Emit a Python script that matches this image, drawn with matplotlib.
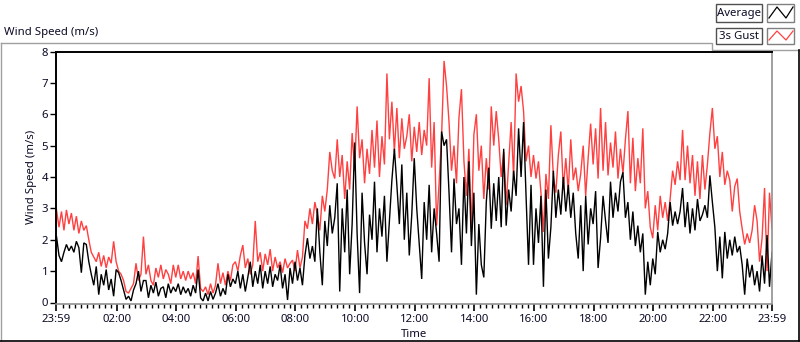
import numpy as np
import matplotlib
matplotlib.use("Agg")
import matplotlib.pyplot as plt
from matplotlib.patches import Rectangle
from matplotlib.lines import Line2D

# ---- data: 5-minute samples from 23:59 to 23:59 ----
sample_minutes = 5

gust = [
    2.95, 2.4, 2.9, 2.3, 2.95, 2.5, 2.85, 2.3, 2.75, 2.2, 2.6, 2.3,
    2.45, 2.0, 1.6, 1.45, 1.3, 1.6, 1.15, 1.5, 1.1, 1.45, 1.25, 1.95,
    1.3, 1.0, 0.9, 0.7, 0.35, 0.3, 0.45, 0.6, 1.25, 0.7, 0.9, 2.1,
    0.9, 1.2, 0.7, 0.55, 1.1, 0.8, 1.2, 0.75, 1.05, 0.9, 0.6, 1.2,
    0.8, 1.2, 0.75, 1.0, 0.7, 1.0, 0.75, 0.95, 0.6, 1.48, 0.45, 0.35,
    0.5, 0.25, 0.6, 0.3, 0.55, 1.25, 0.6, 0.95, 0.55, 1.0, 0.7, 1.2,
    1.3, 1.0, 1.5, 1.83, 1.1, 1.4, 0.9, 1.2, 2.6, 1.3, 1.6, 1.0,
    1.55, 1.2, 1.7, 1.0, 1.45, 1.1, 1.3, 0.95, 1.4, 1.1, 1.25, 1.35,
    1.0, 1.67, 1.1, 1.45, 2.6, 2.35, 3.0, 2.5, 3.2, 2.8, 2.3, 3.4,
    2.9, 3.6, 4.8, 4.2, 3.95, 5.2, 4.0, 4.7, 3.3, 4.5, 3.6, 5.4,
    4.2, 6.25, 4.6, 5.2, 3.8, 4.9, 4.1, 5.5, 4.3, 5.8, 4.0, 5.3,
    4.4, 7.3, 5.2, 6.4, 4.8, 6.2, 4.6, 5.87, 4.9, 5.3, 6.0, 4.5,
    5.6, 4.8, 5.75, 4.7, 5.5, 5.0, 7.15, 4.3, 5.75, 2.45, 3.8, 5.3,
    7.7, 6.9, 5.75, 4.2, 5.0, 3.8, 5.9, 6.8, 4.5, 3.4, 4.9, 2.25,
    5.35, 6.0, 4.2, 5.0, 3.3, 4.6, 3.6, 6.25, 5.0, 6.1, 5.2, 4.0,
    4.8, 3.1, 4.4, 5.75, 4.0, 7.3, 6.4, 6.9, 6.1, 4.5, 5.0, 4.0,
    4.7, 3.95, 4.5, 3.5, 2.25, 4.1, 3.3, 5.65, 4.0, 3.5, 4.7, 5.45,
    3.6, 4.6, 3.55, 5.2, 3.9, 4.3, 3.55, 4.1, 5.0, 3.4, 4.6, 5.7,
    4.4, 5.55, 3.95, 6.2, 4.2, 5.75, 4.05, 5.1, 4.3, 5.45, 3.95, 4.9,
    4.1, 5.2, 6.1, 3.8, 5.25, 3.55, 4.6, 3.8, 5.55, 3.0, 3.55, 2.4,
    2.05, 3.1, 2.3, 3.4, 2.7, 3.2, 2.6, 3.3, 4.2, 3.75, 4.5, 3.9,
    5.5, 3.9, 5.0, 3.8, 4.7, 3.4, 4.5, 3.3, 4.7, 3.6, 4.4, 5.4,
    6.2, 4.9, 5.3, 4.0, 4.8, 3.75, 4.2, 3.9, 2.9, 3.7, 3.95, 2.9,
    2.35, 1.85, 2.2, 1.9, 2.3, 3.1, 2.6, 1.3, 2.05, 3.65, 1.0, 3.5,
    2.35,
]

average = [
    2.1, 1.5, 1.3, 1.6, 1.85, 1.65, 1.8, 1.6, 1.95, 1.75, 0.95, 1.9,
    1.85, 1.3, 0.9, 0.55, 1.15, 0.25, 0.9, 0.55, 1.05, 0.4, 0.75, 0.2,
    1.05, 0.95, 0.7, 0.4, 0.1, 0.2, 0.05, 0.4, 0.6, 1.0, 0.35, 0.7,
    0.7, 0.15, 0.55, 0.3, 0.65, 0.2, 0.45, 0.5, 0.15, 0.6, 0.3, 0.5,
    0.35, 0.6, 0.25, 0.5, 0.3, 0.45, 0.2, 0.55, 0.3, 1.05, 0.15, 0.05,
    0.3, 0.05, 0.35, 0.1, 0.3, 0.6, 0.2, 0.45, 0.25, 0.9, 0.5, 0.75,
    0.6, 1.0, 0.45, 0.9, 0.35, 0.8, 1.3, 0.5, 1.0, 0.6, 1.2, 0.45,
    1.0, 0.6, 1.15, 0.5, 0.9, 0.7, 1.2, 0.45, 0.9, 0.08, 1.1, 0.6,
    1.3, 0.7, 1.1, 0.55, 1.5, 2.05, 1.4, 1.8, 1.3, 3.0, 1.6, 0.55,
    2.6, 1.8, 3.1, 2.2, 2.7, 3.8, 0.35, 3.0, 1.6, 3.6, 0.9, 2.5,
    5.1, 2.2, 0.3, 3.5, 1.9, 0.9, 2.8, 2.0, 3.85, 1.6, 3.0, 2.1,
    3.4, 1.3, 2.6, 3.9, 4.9, 3.75, 2.5, 4.4, 2.0, 3.5, 1.5, 2.8,
    4.6, 3.0, 1.85, 0.75, 3.2, 2.0, 3.75, 1.6, 3.0, 2.2, 1.3, 5.45,
    5.0, 5.2, 3.5, 1.6, 3.95, 2.5, 3.0, 1.2, 4.0, 2.2, 4.5, 1.8,
    3.5, 0.25, 2.5, 1.2, 0.8, 3.2, 4.3, 2.35, 3.8, 2.6, 4.0, 2.4,
    4.9, 2.45, 3.6, 2.9, 4.2, 3.4, 5.55, 4.0, 5.75, 3.4, 1.2, 3.75,
    1.2, 3.0, 1.9, 3.4, 0.5, 3.6, 1.4, 2.4, 4.2, 2.7, 3.6, 2.8,
    4.0, 2.9, 3.75, 2.7, 3.5, 2.2, 1.4, 3.1, 1.0, 3.4, 1.85, 3.0,
    2.5, 3.55, 1.1, 2.05, 3.4, 2.6, 1.9, 3.85, 2.7, 3.5, 2.9, 3.85,
    4.15, 2.7, 3.2, 2.0, 2.9, 1.8, 2.45, 1.6, 2.2, 0.25, 1.3, 0.55,
    1.4, 0.9, 2.25, 1.6, 2.0, 1.7, 2.2, 3.2, 2.45, 2.9, 2.5, 2.9,
    3.65, 2.4, 3.2, 2.2, 3.0, 2.3, 3.3, 2.6, 2.8, 3.1, 2.7, 4.05,
    3.2, 2.4, 1.0, 2.1, 0.77, 2.25, 1.4, 2.0, 1.5, 2.1, 1.6, 1.8,
    1.2, 0.25, 1.4, 0.8, 1.2, 0.55, 1.0, 0.35, 1.5, 0.6, 2.15, 0.5,
    1.6,
]

series_names = ["Average", "3s Gust"]
x_tick_labels = ["23:59", "02:00", "04:00", "06:00", "08:00", "10:00", "12:00",
                 "14:00", "16:00", "18:00", "20:00", "22:00", "23:59"]
y_ticks = [0, 1, 2, 3, 4, 5, 6, 7, 8]

# ---- style ----
plt.rcParams["font.family"] = ["Noto Sans", "DejaVu Sans"]
TXT = "#0b0b26"
RED = "#ff4040"
FS = 8.2
W, H = 800, 342

fig = plt.figure(figsize=(8, 3.42), dpi=100)
fig.patch.set_facecolor("white")


def px(x0, y0, x1, y1):
    return [x0 / W, 1 - y1 / H, (x1 - x0) / W, (y1 - y0) / H]


# overlay for panel decorations (pixel coordinates)
ov = fig.add_axes([0, 0, 1, 1], zorder=0)
ov.set_xlim(0, W)
ov.set_ylim(H, 0)
ov.axis("off")
gray = "#a0a0a0"
ov.add_line(Line2D([0.5, 712, 712, 800], [42.5, 42.5, 49.5, 49.5], color=gray, lw=1))
ov.add_line(Line2D([0.5, 0.5], [42.5, 340.5], color=gray, lw=1))
ov.add_line(Line2D([0, 798.5], [340.5, 340.5], color="black", lw=1.2))
ov.add_line(Line2D([798.5, 798.5], [49.5, 340.5], color="black", lw=1.2))
ov.text(4, 32, "Wind Speed (m/s)", fontsize=FS, color=TXT, ha="left", va="center")

# legend boxes
legend_rows = [(4, 22), (28, 44)]
for (y0, y1), name, col in zip(legend_rows, series_names, ["black", RED]):
    ov.add_patch(Rectangle((716, y0), 46, y1 - y0, facecolor="white",
                           edgecolor="#505050", lw=1))
    ov.text(739, (y0 + y1) / 2 + 0.5, name, fontsize=FS, color=TXT,
            ha="center", va="center")
    ov.add_patch(Rectangle((767, y0), 27, y1 - y0, facecolor="white",
                           edgecolor="#808080", lw=1))
    ov.add_line(Line2D([769, 777, 786, 793],
                       [y1 - 4, y0 + 3, y1 - 4, y0 + 3], color=col, lw=0.9))

# main plot
ax = fig.add_axes(px(56.5, 51.5, 772, 302.5), zorder=1)
t = np.arange(len(average)) * sample_minutes / 60.0
ax.plot(t, gust, color=RED, lw=1.0, solid_joinstyle="miter")
ax.plot(t, average, color="black", lw=1.0, solid_joinstyle="miter")
ax.set_xlim(0, 24)
ax.set_ylim(0, 8)

for side in ["left", "top"]:
    ax.spines[side].set_color("black")
    ax.spines[side].set_linewidth(1.4)
for side in ["right", "bottom"]:
    ax.spines[side].set_color("#909090")
    ax.spines[side].set_linewidth(1.2)
ax.spines["bottom"].set_position(("outward", 1))

major = [0] + [h + 1 / 60 for h in range(2, 24, 2)] + [24]
ax.set_xticks(major)
ax.set_xticklabels(x_tick_labels)
minor = [m for m in np.arange(1 / 60, 24, 0.2)
         if min(abs(m - M) for M in major) > 0.05]
ax.set_xticks(minor, minor=True)
ax.tick_params(axis="x", which="major", direction="out", length=5, width=1.2,
               color="black", labelsize=FS, labelcolor=TXT, pad=2)
ax.tick_params(axis="x", which="minor", direction="out", length=3, width=1,
               color="black")
ax.set_yticks(y_ticks)
ax.tick_params(axis="y", direction="out", length=4, width=1, color="black",
               labelsize=FS, labelcolor=TXT, pad=2)
ax.set_xlabel("Time", fontsize=FS, color=TXT, labelpad=3)
ax.set_ylabel("Wind Speed (m/s)", fontsize=FS, color=TXT, labelpad=3)

fig.savefig("out.png", dpi=100, facecolor="white")
